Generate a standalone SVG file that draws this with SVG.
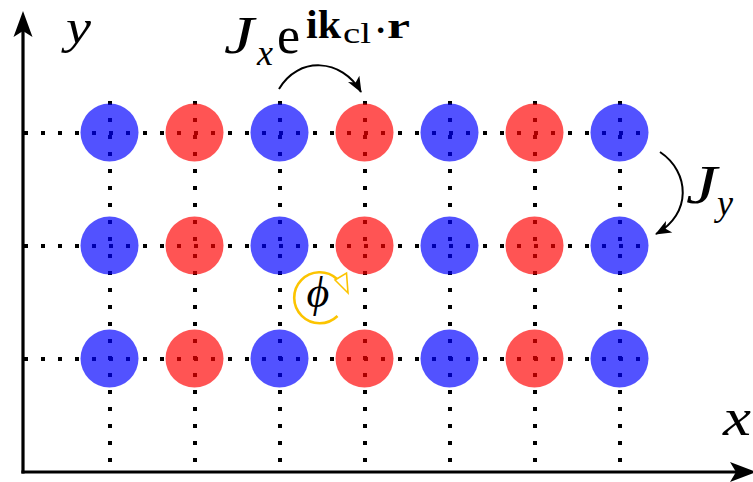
<svg xmlns="http://www.w3.org/2000/svg" width="753" height="482" viewBox="0 0 753 482">
<style>
.dot{stroke:#000;stroke-width:4;stroke-dasharray:4 13;fill:none}
.b{fill:#0000ff;fill-opacity:0.68}
.r{fill:#ff0000;fill-opacity:0.67}
.ax{stroke:#000;stroke-width:3.2;fill:none}
.hop{stroke:#000;stroke-width:2;fill:none;marker-end:url(#ah)}
.t{font-family:"Liberation Serif","DejaVu Serif",serif;fill:#000}
.it{font-style:italic}
.bd{font-weight:bold}
</style>
<defs>
<marker id="ah" markerUnits="userSpaceOnUse" markerWidth="18" markerHeight="16" viewBox="-16 -8 18 16" refX="0" refY="0" orient="auto">
<path d="M1,0 L-15,-6.5 L-11,0 L-15,6.5 Z" fill="#000"/>
</marker>
</defs>
<g id="connectors">
<g id="bonds-h">
<line class="dot" x1="24" y1="133" x2="641" y2="133"/>
<line class="dot" x1="24" y1="246" x2="641" y2="246"/>
<line class="dot" x1="24" y1="359" x2="641" y2="359"/>
</g>
<g id="bonds-v">
<line class="dot" x1="110" y1="101" x2="110" y2="465"/>
<line class="dot" x1="195" y1="101" x2="195" y2="465"/>
<line class="dot" x1="280" y1="101" x2="280" y2="465"/>
<line class="dot" x1="365" y1="101" x2="365" y2="465"/>
<line class="dot" x1="450" y1="101" x2="450" y2="465"/>
<line class="dot" x1="535" y1="101" x2="535" y2="465"/>
<line class="dot" x1="620" y1="101" x2="620" y2="465"/>
</g>
<path id="hop-x" class="hop" d="M279,89 C298,56 342,58 361,92"/>
<path id="hop-y" class="hop" d="M660,152 C690,172 692,214 656,234"/>
</g>
<g id="sites">
<g id="n-1-1"><circle class="b" cx="109.5" cy="132.5" r="29"/></g>
<g id="n-1-2"><circle class="r" cx="194.5" cy="132.5" r="29"/></g>
<g id="n-1-3"><circle class="b" cx="279.5" cy="132.5" r="29"/></g>
<g id="n-1-4"><circle class="r" cx="364.5" cy="132.5" r="29"/></g>
<g id="n-1-5"><circle class="b" cx="449.5" cy="132.5" r="29"/></g>
<g id="n-1-6"><circle class="r" cx="534.5" cy="132.5" r="29"/></g>
<g id="n-1-7"><circle class="b" cx="619.5" cy="132.5" r="29"/></g>
<g id="n-2-1"><circle class="b" cx="109.5" cy="245.5" r="29"/></g>
<g id="n-2-2"><circle class="r" cx="194.5" cy="245.5" r="29"/></g>
<g id="n-2-3"><circle class="b" cx="279.5" cy="245.5" r="29"/></g>
<g id="n-2-4"><circle class="r" cx="364.5" cy="245.5" r="29"/></g>
<g id="n-2-5"><circle class="b" cx="449.5" cy="245.5" r="29"/></g>
<g id="n-2-6"><circle class="r" cx="534.5" cy="245.5" r="29"/></g>
<g id="n-2-7"><circle class="b" cx="619.5" cy="245.5" r="29"/></g>
<g id="n-3-1"><circle class="b" cx="109.5" cy="358.5" r="29"/></g>
<g id="n-3-2"><circle class="r" cx="194.5" cy="358.5" r="29"/></g>
<g id="n-3-3"><circle class="b" cx="279.5" cy="358.5" r="29"/></g>
<g id="n-3-4"><circle class="r" cx="364.5" cy="358.5" r="29"/></g>
<g id="n-3-5"><circle class="b" cx="449.5" cy="358.5" r="29"/></g>
<g id="n-3-6"><circle class="r" cx="534.5" cy="358.5" r="29"/></g>
<g id="n-3-7"><circle class="b" cx="619.5" cy="358.5" r="29"/></g>
</g>
<g id="axes">
<line class="ax" x1="23" y1="473.5" x2="23" y2="30"/>
<path d="M23,11 L32.5,37 L23,31 L13.5,37 Z" fill="#000"/>
<line class="ax" x1="21.4" y1="472" x2="737" y2="472"/>
<path d="M756,472 L730,462 L736,472 L730,482 Z" fill="#000"/>
<text class="t it" x="66" y="43" font-size="48" textLength="25" lengthAdjust="spacingAndGlyphs">y</text>
<text class="t it" x="723" y="435" font-size="52" textLength="28" lengthAdjust="spacingAndGlyphs">x</text>
</g>
<g id="label-jx">
<text class="t it" x="224" y="53" font-size="52" textLength="30" lengthAdjust="spacingAndGlyphs">J</text>
<text class="t it" x="257" y="65" font-size="36">x</text>
<text class="t" x="277" y="53" font-size="52">e</text>
<text class="t bd" x="306" y="38" font-size="40" textLength="35" lengthAdjust="spacingAndGlyphs">ik</text>
<text class="t" x="343" y="43" font-size="30" textLength="28" lengthAdjust="spacingAndGlyphs">cl</text>
<text class="t bd" x="375" y="41" font-size="34">·</text>
<text class="t bd" x="387" y="38" font-size="36" textLength="23" lengthAdjust="spacingAndGlyphs">r</text>
</g>
<g id="label-jy">
<text class="t it" x="686" y="203" font-size="55" textLength="31" lengthAdjust="spacingAndGlyphs">J</text>
<text class="t it" x="717" y="215" font-size="36">y</text>
</g>
<g id="flux">
<path d="M337,279 A25.5,25.5 0 1 0 337.5,316" fill="none" stroke="#fcc400" stroke-width="2.6"/>
<path d="M335,280 L346.5,273 L348,293 Z" fill="#fff" stroke="#fcc400" stroke-width="1.6" stroke-linejoin="miter"/>
<text class="t it" x="318" y="307" font-size="44" text-anchor="middle">ϕ</text>
</g>
</svg>
